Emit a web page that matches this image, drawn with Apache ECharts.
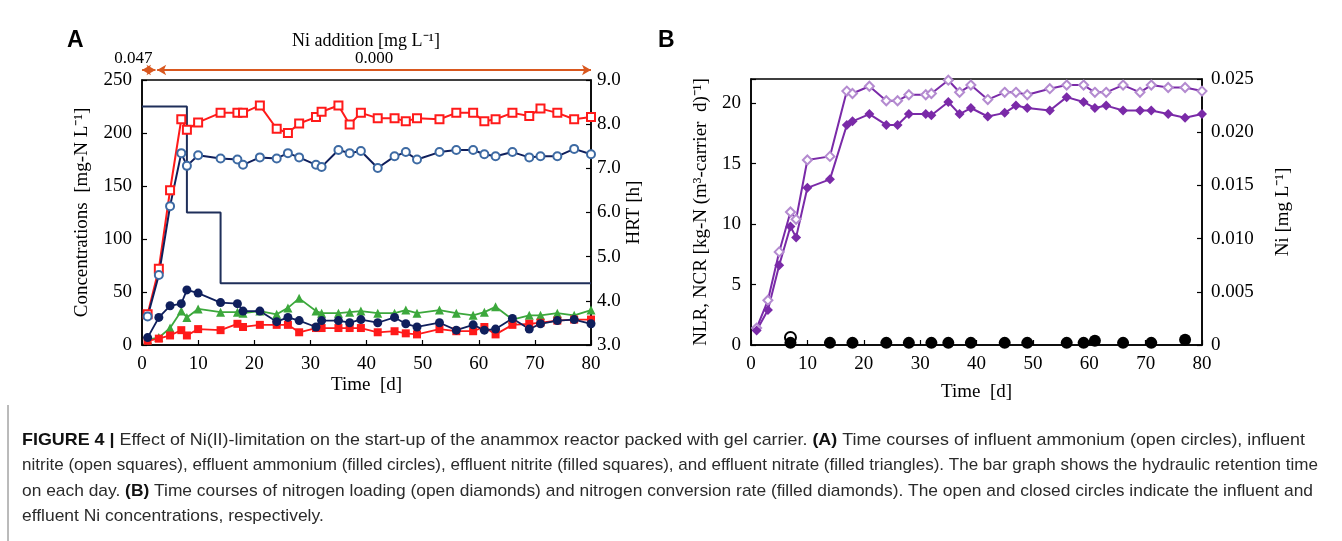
<!DOCTYPE html>
<html>
<head>
<meta charset="utf-8">
<script src="https://cdn.jsdelivr.net/npm/echarts@6/dist/echarts.min.js"></script>
<style>
  html, body { margin: 0; padding: 0; background: #fff; }
  #chart { width: 1342px; height: 541px; }
</style>
</head>
<body>
<div id="chart"></div>
<script>
// sampling days (shared by both panels)
const days = [1, 3, 5, 7, 8, 10, 14, 17, 18, 21, 24, 26, 28, 31, 32, 35, 37, 39, 42, 45, 47, 49, 53, 56, 59, 61, 63, 66, 69, 71, 74, 77, 80]

// panel A: concentrations [mg-N/L]
const inflNitrite = [29, 72, 146, 213, 203, 210, 219, 219, 219, 226, 204, 200, 209, 215, 220, 226, 208, 219, 214, 214, 211, 214, 213, 219, 219, 211, 213, 219, 216, 223, 219, 213, 215]
const inflAmmonium = [27, 66, 131, 181, 169, 179, 176, 175, 170, 177, 176, 181, 177, 170, 168, 184, 181, 183, 167, 178, 182, 175, 182, 184, 184, 180, 178, 182, 177, 178, 178, 185, 180]
const effAmmonium = [7, 26, 37, 39, 52, 49, 40, 39, 32, 32, 22, 26, 23, 17, 23, 23, 21, 24, 21, 26, 20, 17, 21, 14, 19, 14, 15, 25, 15, 20, 23, 24, 20]
const effNitrite = [4, 6, 9, 14, 9, 15, 14, 20, 17, 19, 19, 19, 12, 16, 16, 16, 16, 16, 12, 13, 11, 10, 15, 13, 13, 17, 10, 19, 20, 21, 23, 24, 24]
const effNitrate = [5, 7, 16, 32, 26, 34, 31, 31, 30, 32, 29, 35, 44, 32, 30, 30, 31, 32, 30, 30, 33, 30, 33, 30, 28, 31, 36, 24, 28, 28, 30, 28, 33]

// HRT steps [day, h]
const hrtDays = [0, 8, 8, 14, 14, 80]
const hrtHours = [8.4, 8.4, 6.0, 6.0, 4.4, 4.4]

// Ni addition periods [from day, to day, label]
const niPeriods = [[0, 2.4, '0.047'], [2.7, 80, '0.000']]

// panel B: NLR / NCR [kg-N (m3-carrier d)-1]
const nlr = [1.4, 3.7, 7.7, 11.0, 10.4, 15.3, 15.6, 21.0, 20.8, 21.4, 20.2, 20.2, 20.7, 20.7, 20.8, 21.9, 20.9, 21.5, 20.3, 20.9, 20.9, 20.7, 21.2, 21.5, 21.5, 20.9, 20.9, 21.5, 20.9, 21.5, 21.3, 21.3, 21.0]
const ncr = [1.2, 2.9, 6.6, 9.8, 8.9, 13.0, 13.7, 18.2, 18.5, 19.1, 18.2, 18.2, 19.1, 19.1, 19.0, 20.1, 19.1, 19.6, 18.9, 19.2, 19.8, 19.6, 19.4, 20.5, 20.1, 19.6, 19.8, 19.4, 19.4, 19.4, 19.1, 18.8, 19.1]

// Ni concentrations [mg/L]
const niEffDays = [7, 14, 18, 24, 28, 32, 35, 39, 45, 49, 56, 59, 61, 66, 71, 77]
const niEff = [0.0002, 0.0002, 0.0002, 0.0002, 0.0002, 0.0002, 0.0002, 0.0002, 0.0002, 0.0002, 0.0002, 0.0002, 0.0004, 0.0002, 0.0002, 0.0005]
const niInfDays = [7]
const niInf = [0.0007]

const pair = (xs, ys) => xs.map((x, i) => [x, ys[i]])

const serif = 'Liberation Serif'
const NAVY = '#0f1f5c'
const RED = '#ff1a1a'
const GREEN = '#3ca83c'
const PURPLE = '#7a2aa8'
const ORANGE = '#d9581f'

const baseAxis = {
  axisLine: { lineStyle: { color: '#000', width: 1.5 } },
  axisTick: { inside: true, length: 5, lineStyle: { color: '#000', width: 1.2 } },
  axisLabel: { color: '#000', fontFamily: serif, fontSize: 19, margin: 10 },
  splitLine: { show: false },
  nameTextStyle: { color: '#000', fontFamily: serif, fontSize: 19 }
}

const chart = echarts.init(document.getElementById('chart'))

// caption lines (rich text)
const captionLines = [
  '{b|FIGURE 4 |} Effect of Ni(II)-limitation on the start-up of the anammox reactor packed with gel carrier. {b|(A)} Time courses of influent ammonium (open circles), influent',
  'nitrite (open squares), effluent ammonium (filled circles), effluent nitrite (filled squares), and effluent nitrate (filled triangles). The bar graph shows the hydraulic retention time',
  'on each day. {b|(B)} Time courses of nitrogen loading (open diamonds) and nitrogen conversion rate (filled diamonds). The open and closed circles indicate the influent and',
  'effluent Ni concentrations, respectively.'
]
const captionWidths = [1283, 1296, 1291, null]

// measure caption text width to get the condensed look
const mctx = document.createElement('canvas').getContext('2d')
const capSize = 17
const measureLine = (s) => {
  let w = 0
  s.split(/(\{b\|[^}]*\})/).forEach(part => {
    if (!part) return
    const m = part.match(/^\{b\|([^}]*)\}$/)
    mctx.font = (m ? 'bold ' : '') + capSize + 'px "Liberation Sans"'
    w += mctx.measureText(m ? m[1] : part).width
  })
  return w
}
const scales = captionLines.map((s, i) => captionWidths[i] ? captionWidths[i] / measureLine(s) : null)
const avgScale = (scales[0] + scales[1] + scales[2]) / 3
const captionGraphics = captionLines.map((s, i) => ({
  type: 'text',
  x: 22,
  y: 440 + i * 25.5,
  scaleX: scales[i] || avgScale,
  style: {
    text: s,
    font: capSize + 'px "Liberation Sans"',
    fill: '#2b2b2b',
    textVerticalAlign: 'middle',
    rich: { b: { fontWeight: 'bold', fontSize: capSize, fontFamily: 'Liberation Sans', fill: '#111' } }
  }
}))

const option = {
  backgroundColor: '#fff',
  animation: false,
  graphic: [
    { type: 'text', left: 67, top: 29, style: { text: 'A', font: 'bold 23px "Liberation Sans"', fill: '#000' } },
    { type: 'text', left: 658, top: 29, style: { text: 'B', font: 'bold 23px "Liberation Sans"', fill: '#000' } },
    { type: 'text', x: 366, y: 41, style: { text: 'Ni addition [mg L⁻¹]', font: '18px "Liberation Serif"', fill: '#000', textAlign: 'center', textVerticalAlign: 'middle' } },
    { type: 'line', shape: { x1: 8, y1: 405, x2: 8, y2: 541 }, style: { stroke: '#777', lineWidth: 1 } },
    ...captionGraphics
  ],
  grid: [
    { left: 142, right: 751, top: 80, height: 265, show: true, borderColor: '#000', borderWidth: 1.5, backgroundColor: 'transparent' },
    { left: 142, right: 751, top: 62, height: 16 },
    { left: 751, right: 140, top: 79, height: 266, show: true, borderColor: '#000', borderWidth: 1.5, backgroundColor: 'transparent' }
  ],
  xAxis: [
    {
      ...baseAxis, gridIndex: 0, type: 'value', min: 0, max: 80, interval: 10,
      name: 'Time  [d]', nameLocation: 'middle', nameGap: 31
    },
    { gridIndex: 1, type: 'value', min: 0, max: 80, show: false },
    {
      ...baseAxis, gridIndex: 2, type: 'value', min: 0, max: 80, interval: 10,
      name: 'Time  [d]', nameLocation: 'middle', nameGap: 38
    }
  ],
  yAxis: [
    {
      ...baseAxis, gridIndex: 0, type: 'value', min: 0, max: 250, interval: 50,
      name: 'Concentrations  [mg-N L⁻¹]', nameLocation: 'middle', nameGap: 50
    },
    {
      ...baseAxis, gridIndex: 0, type: 'value', position: 'right', min: 3, max: 9, interval: 1,
      axisLabel: { ...baseAxis.axisLabel, margin: 6, formatter: v => v.toFixed(1) },
      name: 'HRT [h]', nameLocation: 'middle', nameGap: 34
    },
    { gridIndex: 1, type: 'value', min: 0, max: 1, show: false },
    {
      ...baseAxis, gridIndex: 2, type: 'value', min: 0, max: 22, interval: 5,
      axisLabel: { ...baseAxis.axisLabel, formatter: v => (v % 5 === 0 ? String(v) : '') },
      name: 'NLR, NCR [kg-N (m³-carrier  d)⁻¹]', nameLocation: 'middle', nameGap: 40
    },
    {
      ...baseAxis, gridIndex: 2, type: 'value', position: 'right', min: 0, max: 0.025, interval: 0.005,
      axisLabel: { ...baseAxis.axisLabel, margin: 9, formatter: v => (v === 0 ? '0' : v.toFixed(3)) },
      name: 'Ni [mg L⁻¹]', nameLocation: 'middle', nameGap: 72
    }
  ],
  series: [
    // HRT bar outline
    {
      name: 'HRT', type: 'line', xAxisIndex: 0, yAxisIndex: 1,
      data: pair(hrtDays, hrtHours), symbol: 'none', z: 1,
      lineStyle: { color: '#1f2f5a', width: 2 }
    },
    {
      name: 'Influent nitrite', type: 'line', xAxisIndex: 0, yAxisIndex: 0,
      data: pair(days, inflNitrite), symbol: 'emptyRect', symbolSize: 8,
      lineStyle: { color: RED, width: 2 },
      itemStyle: { color: RED, borderColor: RED, borderWidth: 1.2 }
    },
    {
      name: 'Influent ammonium', type: 'line', xAxisIndex: 0, yAxisIndex: 0,
      data: pair(days, inflAmmonium), symbol: 'emptyCircle', symbolSize: 8,
      lineStyle: { color: NAVY, width: 2 },
      itemStyle: { color: '#3d6aa3', borderColor: '#3d6aa3', borderWidth: 1.2 }
    },
    {
      name: 'Effluent nitrate', type: 'line', xAxisIndex: 0, yAxisIndex: 0,
      data: pair(days, effNitrate), symbol: 'triangle', symbolSize: 9,
      lineStyle: { color: GREEN, width: 1.8 },
      itemStyle: { color: GREEN }
    },
    {
      name: 'Effluent nitrite', type: 'line', xAxisIndex: 0, yAxisIndex: 0,
      data: pair(days, effNitrite), symbol: 'rect', symbolSize: 8,
      lineStyle: { color: RED, width: 1.8 },
      itemStyle: { color: RED }
    },
    {
      name: 'Effluent ammonium', type: 'line', xAxisIndex: 0, yAxisIndex: 0,
      data: pair(days, effAmmonium), symbol: 'circle', symbolSize: 9,
      lineStyle: { color: NAVY, width: 1.8 },
      itemStyle: { color: NAVY }
    },
    // Ni addition arrows
    {
      name: 'Ni addition', type: 'line', xAxisIndex: 1, yAxisIndex: 2,
      data: [[0, 0.5]], symbol: 'none', lineStyle: { opacity: 0 }, silent: true,
      markLine: {
        silent: true,
        symbol: ['arrow', 'arrow'], symbolSize: [8, 9],
        lineStyle: { color: ORANGE, width: 1.8, type: 'solid' },
        label: {
          show: true, color: '#000', fontFamily: serif, fontSize: 17, distance: 3,
          formatter: p => p.data.name
        },
        data: niPeriods.map((p, i) => [
          { coord: [p[0], 0.5], name: p[2], label: { position: i === 0 ? 'insideEndTop' : 'middle' } },
          { coord: [p[1], 0.5] }
        ])
      }
    },
    // panel B
    {
      name: 'NLR', type: 'line', xAxisIndex: 2, yAxisIndex: 3,
      data: pair(days, nlr), symbol: 'emptyDiamond', symbolSize: 9,
      lineStyle: { color: PURPLE, width: 2 },
      itemStyle: { color: '#b48bd0', borderColor: '#b48bd0', borderWidth: 1.2 }
    },
    {
      name: 'NCR', type: 'line', xAxisIndex: 2, yAxisIndex: 3,
      data: pair(days, ncr), symbol: 'diamond', symbolSize: 10,
      lineStyle: { color: PURPLE, width: 2 },
      itemStyle: { color: PURPLE }
    },
    {
      name: 'Ni influent', type: 'scatter', xAxisIndex: 2, yAxisIndex: 4,
      data: pair(niInfDays, niInf), symbol: 'emptyCircle', symbolSize: 11,
      itemStyle: { color: '#000', borderColor: '#000', borderWidth: 2, opacity: 1 }, z: 3
    },
    {
      name: 'Ni effluent', type: 'scatter', xAxisIndex: 2, yAxisIndex: 4,
      data: pair(niEffDays, niEff), symbol: 'circle', symbolSize: 12,
      itemStyle: { color: '#000', opacity: 1 }, z: 4
    }
  ]
}

chart.setOption(option)
</script>
</body>
</html>
